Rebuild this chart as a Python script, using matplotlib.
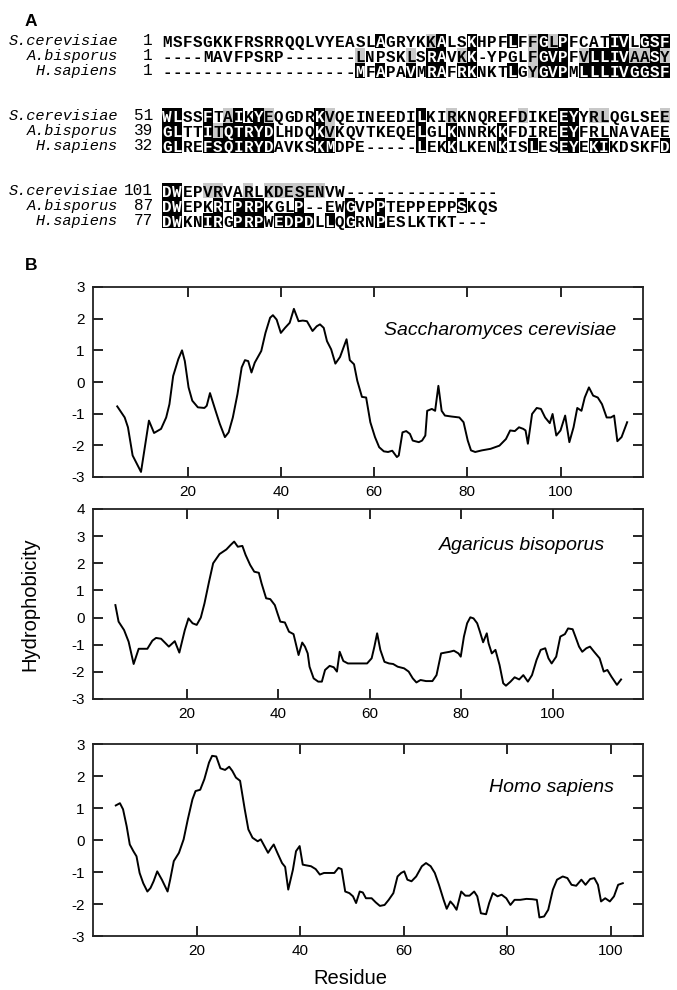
import matplotlib
matplotlib.use("Agg")
import matplotlib.pyplot as plt
from matplotlib.patches import Rectangle

plt.rcParams['font.family'] = ['Liberation Sans', 'DejaVu Sans']
plt.rcParams['axes.unicode_minus'] = False

# ---- panel A: alignment ----
species_short = ["S.cerevisiae", "A.bisporus", "H.sapiens"]

block1 = ["MSFSGKKFRSRRQQLVYEASLAGRYKKALSKHPFLFFGLPFCATIVLGSF",
          "----MAVFPSRP" + "-" * 7 + "LNPSKLSRAVKK-YPGLFGVPFVLLIVAASY",
          "-" * 19 + "MFAPAVMRAFRKNKTLGYGVPMLLLIVGGSF"]
block2 = ["WLSSFTAIKYEQGDRKVQEINEEDILKIRKNQREFDIKEEYYRLQGLSEE",
          "GLTTITQTRYDLHDQKVKQVTKEQELGLKNNRKKFDIREEYFRLNAVAEE",
          "GLREFSQIRYDAVKSKMDPE" + "-" * 5 + "LEKKLKENKISLESEYEKIKDSKFD"]
block3 = ["DWEPVRVARLKDESENVW" + "-" * 15,
          "DWEPKRIPRPKGLP--EWGVPPTEPPEPPSKQS",
          "DWKNIRGPRPWEDPDLLQGRNPESLKTKT---"]
starts1 = [1, 1, 1]
starts2 = [51, 39, 32]
starts3 = [101, 87, 77]

# shaded columns (1-based) per species
black1 = [[22, 28, 31, 35, 38, 40, 45, 46, 48, 49, 50],
          [27, 28, 31, 38, 39, 40, 43, 44, 45, 46, 49],
          [20, 22, 25, 27, 28, 30, 31, 35, 38, 39, 40, 42, 43, 44, 45, 46, 47, 48, 49, 50]]
gray1 = [[27, 37, 39],
         [20, 25, 30, 37, 42, 47, 48, 50],
         [37]]
black2 = [[1, 2, 5, 8, 10, 16, 26, 40, 41],
          [1, 2, 5, 7, 8, 9, 10, 11, 16, 26, 29, 34, 40, 41],
          [1, 2, 5, 6, 7, 8, 9, 10, 11, 16, 17, 26, 29, 34, 37, 40, 41, 43, 44, 50]]
gray2 = [[7, 11, 17, 29, 36, 43, 44, 50],
         [6, 17],
         []]
black3 = [[1, 2],
          [1, 2, 6, 8, 9, 10, 14, 19, 22, 30],
          [1, 2, 5, 6, 8, 9, 10, 12, 13, 14, 15, 17, 19, 22]]
gray3 = [[5, 6, 9, 11, 12, 13, 14, 15, 16],
         [],
         []]

# ---- panel B: hydrophobicity profiles ----
sc_x = [4.9, 6.5, 7.2, 8.2, 10.0, 11.7, 12.8, 14.3, 15.4, 16.1, 16.9, 18.0, 18.8, 19.4,
        20.2, 21.0, 22.2, 23.6, 24.1, 24.8, 26.0, 26.9, 28.0, 28.8, 29.7, 30.7, 31.6, 32.3,
        33.0, 33.7, 34.4, 35.8, 36.7, 37.7, 38.3, 39.1, 40.0, 40.9, 41.9, 42.8, 43.8, 44.7,
        45.6, 46.8, 47.7, 48.4, 49.2, 49.9, 50.8, 51.7, 52.7, 54.1, 54.8, 55.7, 56.4, 57.4,
        58.3, 59.2, 60.2, 61.1, 62.1, 63.0, 63.9, 64.9, 65.3, 66.1, 66.9, 67.7, 68.3, 69.6,
        70.3, 71.0, 71.4, 72.4, 73.1, 73.8, 74.5, 75.2, 76.6, 78.3, 79.2, 80.1, 80.8, 81.7,
        83.1, 85.0, 86.9, 88.3, 89.2, 90.2, 91.1, 92.0, 92.5, 93.0, 93.5, 93.9, 94.9, 95.8,
        96.7, 97.7, 98.3, 99.1, 100.0, 101.0, 101.9, 102.8, 103.6, 104.5, 105.2, 106.1,
        107.0, 108.0, 108.9, 109.9, 110.8, 111.5, 112.2, 113.1, 114.3]
sc_y = [-0.77, -1.12, -1.43, -2.32, -2.84, -1.22, -1.61, -1.48, -1.12, -0.70, 0.19, 0.72,
        1.00, 0.66, -0.17, -0.59, -0.80, -0.82, -0.75, -0.35, -0.91, -1.32, -1.74, -1.59,
        -1.12, -0.38, 0.46, 0.69, 0.66, 0.30, 0.61, 0.98, 1.55, 2.03, 2.11, 1.97, 1.55, 1.71,
        1.87, 2.31, 1.92, 1.94, 1.92, 1.61, 1.76, 1.82, 1.71, 1.29, 1.03, 0.58, 0.79, 1.35,
        0.69, 0.56, 0.04, -0.47, -0.49, -1.27, -1.74, -2.06, -2.19, -2.21, -2.17, -2.37,
        -2.32, -1.59, -1.55, -1.64, -1.85, -1.90, -1.85, -1.69, -0.91, -0.85, -0.91, -0.12,
        -0.91, -1.06, -1.09, -1.12, -1.27, -1.85, -2.16, -2.21, -2.16, -2.11, -2.01, -1.80,
        -1.53, -1.55, -1.43, -1.48, -1.53, -1.95, -1.43, -1.01, -0.82, -0.85, -1.12, -1.30,
        -1.01, -1.69, -1.53, -1.06, -1.90, -1.43, -0.82, -0.91, -0.49, -0.17, -0.43, -0.49,
        -0.70, -1.12, -1.12, -1.06, -1.87, -1.74, -1.27]

ab_x = [4.3, 5.0, 6.2, 7.2, 8.3, 9.4, 11.3, 12.4, 13.2, 14.3, 15.3, 16.0, 17.3, 18.3, 19.5,
        20.3, 21.2, 22.1, 23.0, 23.8, 24.8, 25.7, 27.1, 28.6, 29.5, 30.3, 31.1, 32.1, 32.8,
        33.8, 34.7, 35.7, 36.3, 37.3, 38.2, 39.2, 39.8, 40.4, 41.4, 42.3, 43.3, 44.4, 45.2,
        45.8, 46.4, 46.8, 47.7, 48.7, 49.5, 50.2, 51.2, 52.1, 52.8, 53.4, 54.2, 55.2, 57.1,
        59.4, 60.4, 61.0, 61.6, 62.3, 63.2, 64.2, 65.1, 66.1, 67.5, 68.5, 69.4, 70.2, 71.1,
        72.3, 73.7, 74.6, 75.6, 76.5, 77.5, 78.4, 79.4, 79.9, 80.6, 81.3, 82.0, 82.7, 83.5,
        84.1, 84.8, 85.6, 86.0, 86.7, 87.5, 88.4, 89.2, 89.8, 90.8, 91.7, 92.7, 93.6, 94.6,
        95.5, 96.5, 97.4, 98.4, 99.1, 99.8, 100.8, 101.7, 102.7, 103.4, 104.4, 105.0, 105.8,
        106.5, 107.4, 108.2, 109.1, 110.3, 111.2, 112.0, 112.9, 114.1, 115.0]
ab_y = [0.46, -0.15, -0.46, -0.89, -1.71, -1.15, -1.15, -0.85, -0.75, -0.78, -0.95, -1.07,
        -0.87, -1.29, -0.46, -0.03, -0.21, -0.27, 0.00, 0.52, 1.32, 2.00, 2.34, 2.51, 2.67,
        2.80, 2.61, 2.64, 2.31, 1.94, 1.69, 1.65, 1.26, 0.71, 0.68, 0.46, 0.15, -0.15, -0.18,
        -0.52, -0.61, -1.38, -0.92, -1.07, -1.32, -1.81, -2.24, -2.36, -2.36, -1.93, -1.78,
        -1.83, -1.99, -1.26, -1.60, -1.69, -1.69, -1.69, -1.50, -1.07, -0.58, -1.19, -1.63,
        -1.69, -1.71, -1.81, -1.87, -1.99, -2.24, -2.39, -2.30, -2.34, -2.34, -2.12, -1.32,
        -1.29, -1.26, -1.22, -1.32, -1.44, -0.70, -0.21, 0.01, -0.03, -0.21, -0.52, -0.91,
        -0.58, -0.95, -1.32, -1.19, -1.75, -2.42, -2.51, -2.36, -2.20, -2.28, -2.12, -2.36,
        -2.12, -1.56, -1.19, -1.13, -1.50, -1.69, -1.44, -0.70, -0.61, -0.40, -0.43, -0.70,
        -1.07, -1.26, -1.13, -1.07, -1.26, -1.50, -1.99, -1.93, -2.18, -2.48, -2.28]

hs_x = [4.4, 5.2, 5.8, 6.5, 7.1, 7.8, 8.4, 9.0, 9.7, 10.5, 11.1, 11.7, 12.4, 13.3, 14.4,
        14.9, 15.6, 16.6, 17.5, 18.3, 19.2, 19.8, 20.7, 21.5, 22.4, 23.0, 23.8, 24.6, 25.5,
        26.3, 26.9, 27.6, 28.4, 29.3, 30.0, 30.8, 31.8, 32.4, 33.1, 33.8, 34.4, 34.9, 35.6,
        36.5, 37.1, 37.7, 38.6, 39.2, 39.9, 40.5, 41.1, 42.1, 43.0, 43.8, 44.6, 45.7, 46.6,
        47.4, 48.0, 48.7, 49.5, 50.2, 50.8, 51.5, 52.1, 52.7, 53.8, 54.6, 55.4, 56.3, 57.1,
        58.0, 58.8, 59.5, 60.1, 60.7, 61.5, 62.4, 63.5, 64.3, 65.2, 66.0, 66.8, 67.7, 68.3,
        69.0, 69.6, 70.2, 71.1, 71.9, 72.7, 73.6, 74.2, 74.9, 75.9, 76.5, 77.2, 78.1, 78.9,
        79.8, 80.6, 81.4, 82.5, 83.7, 84.8, 85.7, 86.2, 87.1, 87.9, 88.8, 89.6, 90.7, 91.6,
        92.4, 93.3, 94.3, 95.1, 96.0, 96.8, 97.5, 98.1, 98.9, 99.8, 100.6, 101.4, 102.3]
hs_y = [1.08, 1.15, 0.96, 0.43, -0.14, -0.35, -0.51, -1.03, -1.35, -1.61, -1.50, -1.29,
        -0.98, -1.24, -1.61, -1.24, -0.66, -0.40, 0.02, 0.64, 1.27, 1.53, 1.57, 1.90, 2.42,
        2.63, 2.61, 2.24, 2.19, 2.29, 2.16, 1.95, 1.85, 0.96, 0.33, 0.07, -0.04, 0.02, -0.19,
        -0.40, -0.25, -0.14, -0.40, -0.72, -0.84, -1.55, -0.93, -0.35, -0.19, -0.77, -0.79,
        -0.82, -0.91, -1.08, -1.03, -1.03, -1.03, -0.87, -0.91, -1.61, -1.66, -1.76, -1.97,
        -1.61, -1.64, -1.82, -1.82, -1.95, -2.06, -2.03, -1.87, -1.66, -1.14, -1.03, -0.98,
        -1.24, -1.29, -1.14, -0.82, -0.72, -0.82, -1.03, -1.40, -1.87, -2.15, -1.92, -2.03,
        -2.18, -1.61, -1.74, -1.74, -1.61, -1.76, -2.29, -2.32, -1.97, -1.66, -1.76, -1.71,
        -1.82, -2.03, -1.87, -1.87, -1.84, -1.85, -1.87, -2.42, -2.39, -2.18, -1.55, -1.24,
        -1.14, -1.19, -1.40, -1.43, -1.24, -1.40, -1.22, -1.19, -1.40, -1.92, -1.82, -1.92,
        -1.76, -1.40, -1.35]

species_full = ["Saccharomyces cerevisiae", "Agaricus bisoporus", "Homo sapiens"]

W, H = 677, 990
fig = plt.figure(figsize=(W / 100, H / 100), dpi=100)

# alignment axes: x in alignment columns, y in rows
ax_a = fig.add_axes([0, 1 - 260 / H, 1, 260 / H])
ax_a.set_xlim(-15.44, 51.19)
ax_a.set_ylim(14.7, -2.75)
ax_a.axis('off')

blocks = [(block1, starts1, black1, gray1),
          (block2, starts2, black2, gray2),
          (block3, starts3, black3, gray3)]
for b, (seqs, starts, blk, gry) in enumerate(blocks):
    for r in range(3):
        y = b * 5.03 + r
        ax_a.text(-3.83, y, species_short[r], ha='right', va='center',
                  family='Liberation Mono', style='italic', size=11)
        ax_a.text(-0.4, y, str(starts[r]), ha='right', va='center',
                  family='Liberation Mono', size=11.5)
        for c, ch in enumerate(seqs[r], start=1):
            col = 'black'
            if c in blk[r]:
                ax_a.add_patch(Rectangle((c - 0.5, y - 0.5), 1, 1, color='black', lw=0))
                col = 'white'
            elif c in gry[r]:
                ax_a.add_patch(Rectangle((c - 0.5, y - 0.5), 1, 1, color='#c8c8c8', lw=0))
            ax_a.text(c, y, ch, ha='center', va='center_baseline', color=col,
                      family='Liberation Mono', weight='bold', size=11.5)

fig.text(31 / W, 1 - 21 / H, 'A', weight='bold', size=12.5, ha='center', va='center')
fig.text(31 / W, 1 - 266 / H, 'B', weight='bold', size=12.5, ha='center', va='center')

# hydrophobicity plots
def px_axes(left, top, right, bottom):
    return fig.add_axes([left / W, 1 - bottom / H, (right - left) / W, (bottom - top) / H])

boxes = [(93, 287, 643, 477), (93, 509, 643, 699), (93, 744, 643, 936)]
xlims = [(-0.3, 117.7), (-0.6, 119.8), (0, 106.2)]
ylims = [(-3, 3), (-3, 4), (-3, 3)]
data = [(sc_x, sc_y), (ab_x, ab_y), (hs_x, hs_y)]
label_pos = [(0.951, 0.77), (0.931, 0.81), (0.947, 0.776)]

for i in range(3):
    ax = px_axes(*boxes[i])
    x, y = data[i]
    ax.plot(x, y, color='black', lw=1.4)
    ax.set_xlim(*xlims[i])
    ax.set_ylim(*ylims[i])
    ax.set_xticks([20, 40, 60, 80, 100])
    ax.set_yticks(range(ylims[i][0], ylims[i][1] + 1))
    ax.tick_params(direction='in', top=True, right=True, length=7, width=1.2,
                   labelsize=11, pad=6)
    for s in ax.spines.values():
        s.set_linewidth(1.3)
        s.set_color('#222222')
    ax.text(label_pos[i][0], label_pos[i][1], species_full[i], transform=ax.transAxes,
            ha='right', va='center', style='italic', size=14)

fig.text(30 / W, 1 - 604 / H, 'Hydrophobicity', rotation=90, ha='center', va='center', size=14.5)
fig.text(350 / W, 1 - 978 / H, 'Residue', ha='center', va='center', size=14.5)

fig.savefig('out.png', dpi=100)
